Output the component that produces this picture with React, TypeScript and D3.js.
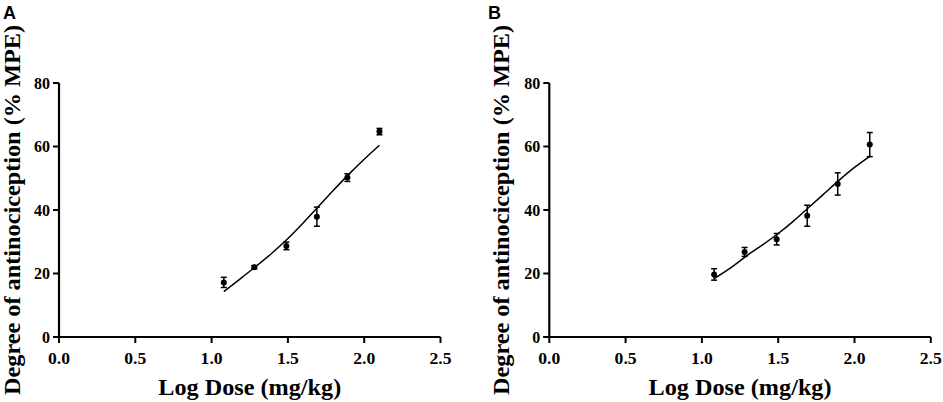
import React from "react";
import { scaleLinear, line, curveCatmullRom } from "d3";

const doses = [1.08, 1.28, 1.49, 1.69, 1.89, 2.1];

const meanA = [17.2, 22.0, 28.7, 37.9, 50.2, 64.7];
const errA = [1.6, 0.5, 1.2, 3.0, 1.2, 1.0];
const meanB = [19.7, 26.8, 30.8, 38.2, 48.2, 60.6];
const errB = [1.8, 1.4, 1.8, 3.3, 3.5, 3.8];

// fitted curves
const curveX = [1.08, 1.2, 1.3, 1.4, 1.5, 1.6, 1.7, 1.8, 1.9, 2.0, 2.1];
const curveA = [14.3, 18.8, 22.6, 26.6, 31.0, 35.9, 41.1, 46.3, 51.3, 56.0, 60.4];
const curveB = [18.4, 22.2, 25.8, 29.1, 32.6, 36.5, 40.8, 45.1, 49.4, 53.4, 56.9];

const xTicks = [0, 0.5, 1.0, 1.5, 2.0, 2.5];
const yTicks = [0, 20, 40, 60, 80];

const serif = "'Liberation Serif', 'Times New Roman', serif";
const sans = "'Liberation Sans', Arial, sans-serif";

interface IPanelProp {
  left: number;
  label: string;
  labelX: number;
  titleX: number;
  mean: number[];
  err: number[];
  fit: number[];
}

function Panel({ left, label, labelX, titleX, mean, err, fit }: IPanelProp) {
  const x = scaleLinear().domain([0, 2.5]).range([left, left + 381.5]);
  const y = scaleLinear().domain([0, 80]).range([337, 83]);
  const path = line<number>()
    .x((d, i) => x(curveX[i]))
    .y((d) => y(d))
    .curve(curveCatmullRom);

  return (
    <g>
      <text x={labelX} y={19} fontFamily={sans} fontWeight="bold" fontSize={18}>
        {label}
      </text>
      {/* axes */}
      <line x1={x(0)} x2={x(0)} y1={y(80)} y2={y(0)} stroke="#000" strokeWidth={2.2} />
      <line x1={x(0) - 6} x2={x(2.5)} y1={y(0)} y2={y(0)} stroke="#000" strokeWidth={2.2} />
      {yTicks.map((t) => (
        <g key={"y" + t}>
          <line x1={x(0) - 6} x2={x(0)} y1={y(t)} y2={y(t)} stroke="#000" strokeWidth={2} />
          <text
            x={x(0) - 9}
            y={y(t)}
            dy="0.35em"
            textAnchor="end"
            fontFamily={serif}
            fontWeight="bold"
            fontSize={16}
          >
            {t}
          </text>
        </g>
      ))}
      {xTicks.map((t) => (
        <g key={"x" + t}>
          <line x1={x(t)} x2={x(t)} y1={y(0)} y2={y(0) + 6} stroke="#000" strokeWidth={2} />
          <text
            x={x(t)}
            y={363.5}
            textAnchor="middle"
            fontFamily={serif}
            fontWeight="bold"
            fontSize={16}
            textLength={22}
            lengthAdjust="spacingAndGlyphs"
          >
            {t.toFixed(1)}
          </text>
        </g>
      ))}
      <text
        x={(x(0) + x(2.5)) / 2}
        y={395}
        textAnchor="middle"
        fontFamily={serif}
        fontWeight="bold"
        fontSize={23}
        textLength={183}
        lengthAdjust="spacingAndGlyphs"
      >
        Log Dose (mg/kg)
      </text>
      <text
        transform={`translate(${titleX},${210}) rotate(-90)`}
        textAnchor="middle"
        fontFamily={serif}
        fontWeight="bold"
        fontSize={24}
        textLength={370}
        lengthAdjust="spacingAndGlyphs"
      >
        Degree of antinociception (% MPE)
      </text>
      {/* fitted curve */}
      <path d={path(fit) || ""} fill="none" stroke="#000" strokeWidth={1.5} />
      {/* means with error bars */}
      {doses.map((d, i) => (
        <g key={"p" + i}>
          <line x1={x(d)} x2={x(d)} y1={y(mean[i] - err[i])} y2={y(mean[i] + err[i])} stroke="#000" strokeWidth={1.5} />
          <line x1={x(d) - 3} x2={x(d) + 3} y1={y(mean[i] - err[i])} y2={y(mean[i] - err[i])} stroke="#000" strokeWidth={1.5} />
          <line x1={x(d) - 3} x2={x(d) + 3} y1={y(mean[i] + err[i])} y2={y(mean[i] + err[i])} stroke="#000" strokeWidth={1.5} />
          <circle cx={x(d)} cy={y(mean[i])} r={3} fill="#000" />
        </g>
      ))}
    </g>
  );
}

export default function App() {
  return (
    <div style={{ position: "absolute", left: 0, top: 0 }}>
      <svg width={943} height={402} style={{ display: "block", background: "#fff" }}>
        <Panel left={59} label="A" labelX={3} titleX={20} mean={meanA} err={errA} fit={curveA} />
        <Panel left={549.3} label="B" labelX={488} titleX={509} mean={meanB} err={errB} fit={curveB} />
      </svg>
    </div>
  );
}
